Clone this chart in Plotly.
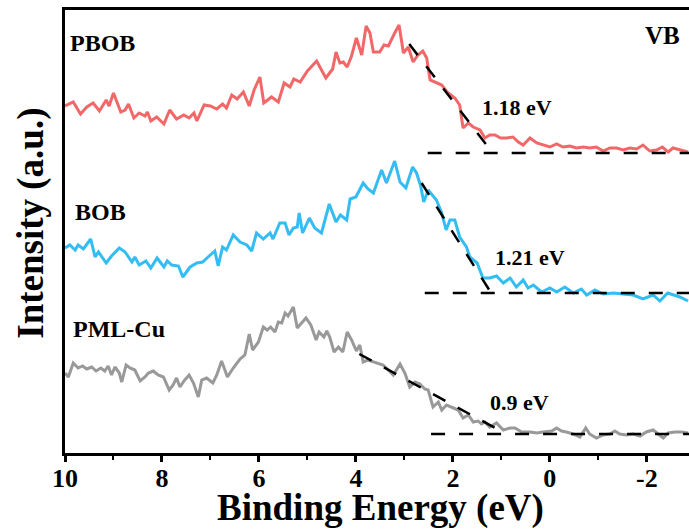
import plotly.graph_objects as go

# ---- valence-band XPS spectra (binding energy in eV, intensity in a.u., offset per sample) ----
pbob_energy = [10.00, 9.83, 9.68, 9.55, 9.42, 9.29, 9.15, 9.09, 9.00, 8.85,
               8.76, 8.69, 8.58, 8.47, 8.35, 8.30, 8.23, 8.11, 7.96, 7.84,
               7.70, 7.55, 7.44, 7.34, 7.28, 7.13, 7.00, 6.87, 6.75, 6.67,
               6.56, 6.45, 6.32, 6.20, 6.10, 5.98, 5.90, 5.74, 5.60, 5.48,
               5.36, 5.28, 5.15, 5.00, 4.81, 4.62, 4.48, 4.41, 4.33, 4.26,
               4.18, 4.09, 3.99, 3.88, 3.79, 3.71, 3.64, 3.51, 3.42, 3.33,
               3.20, 3.11, 3.02, 2.92, 2.82, 2.72, 2.62, 2.54, 2.47, 2.34,
               2.23, 2.12, 1.96, 1.86, 1.79, 1.68, 1.58, 1.44, 1.34, 1.24,
               1.13, 1.02, 0.89, 0.76, 0.65, 0.55, 0.41, 0.27, 0.14, 0.00,
               -0.14, -0.27, -0.41, -0.55, -0.69, -0.82, -0.96, -1.10, -1.24, -1.38,
               -1.51, -1.65, -1.79, -1.92, -2.06, -2.20, -2.32, -2.44, -2.54, -2.68,
               -2.85]
pbob_intensity = [347, 351, 339, 346, 350, 342, 353, 347, 360, 341,
                  343, 349, 335, 340, 337, 341, 332, 336, 329, 343,
                  334, 338, 335, 340, 332, 348, 347, 344, 349, 345,
                  358, 354, 361, 347, 363, 376, 350, 356, 351, 370,
                  366, 374, 371, 382, 392, 375, 384, 401, 390, 391,
                  386, 397, 415, 398, 427, 420, 401, 401, 408, 407,
                  420, 428, 400, 406, 391, 398, 402, 395, 373, 370,
                  368, 361, 355, 348, 325, 330, 326, 323, 315, 318,
                  318, 315, 315, 316, 311, 308, 315, 310, 308, 306,
                  309, 306, 307, 305, 306, 305, 306, 302, 305, 305,
                  303, 305, 304, 308, 302, 303, 306, 301, 305, 303,
                  301]

bob_energy = [10.00, 9.90, 9.79, 9.73, 9.62, 9.47, 9.38, 9.31, 9.15, 9.04,
              8.88, 8.76, 8.62, 8.56, 8.47, 8.33, 8.23, 8.10, 7.96, 7.89,
              7.80, 7.66, 7.57, 7.42, 7.28, 7.16, 7.05, 6.91, 6.84, 6.75,
              6.67, 6.53, 6.39, 6.25, 6.15, 6.05, 5.91, 5.77, 5.71, 5.57,
              5.46, 5.38, 5.29, 5.21, 5.17, 5.10, 4.96, 4.85, 4.71, 4.55,
              4.41, 4.32, 4.19, 4.12, 4.00, 3.85, 3.75, 3.64, 3.47, 3.37,
              3.20, 3.09, 2.97, 2.83, 2.75, 2.67, 2.60, 2.51, 2.34, 2.23,
              2.14, 2.06, 1.96, 1.86, 1.72, 1.65, 1.50, 1.38, 1.24, 1.10,
              0.96, 0.82, 0.69, 0.55, 0.45, 0.34, 0.17, 0.00, -0.14, -0.31,
              -0.48, -0.65, -0.76, -0.93, -1.10, -1.31, -1.51, -1.72, -1.92, -2.13,
              -2.27, -2.43, -2.68, -2.85]
bob_intensity = [205, 208, 203, 208, 204, 214, 196, 201, 190, 197,
                 205, 201, 191, 196, 188, 192, 185, 195, 186, 192,
                 188, 187, 176, 186, 190, 191, 196, 202, 187, 206,
                 203, 218, 211, 208, 202, 220, 214, 220, 214, 230,
                 230, 218, 225, 226, 240, 220, 235, 225, 220, 249,
                 231, 238, 233, 254, 256, 270, 264, 260, 283, 270,
                 292, 271, 265, 286, 280, 268, 251, 263, 253, 240,
                 223, 233, 233, 216, 206, 196, 190, 175, 175, 177,
                 170, 175, 166, 173, 165, 168, 161, 165, 161, 166,
                 160, 164, 158, 163, 159, 160, 159, 158, 154, 158,
                 152, 160, 156, 152]

pml_energy = [10.00, 9.93, 9.83, 9.73, 9.64, 9.55, 9.45, 9.36, 9.26, 9.18,
              9.11, 9.04, 8.97, 8.88, 8.83, 8.74, 8.66, 8.56, 8.45, 8.35,
              8.28, 8.18, 8.08, 7.97, 7.85, 7.77, 7.70, 7.63, 7.53, 7.44,
              7.35, 7.25, 7.18, 7.08, 6.95, 6.87, 6.77, 6.65, 6.53, 6.39,
              6.29, 6.20, 6.13, 6.01, 5.91, 5.83, 5.76, 5.67, 5.60, 5.53,
              5.46, 5.40, 5.29, 5.21, 5.12, 5.03, 4.93, 4.82, 4.76, 4.66,
              4.60, 4.54, 4.45, 4.36, 4.27, 4.18, 4.09, 3.99, 3.92, 3.85,
              3.75, 3.57, 3.44, 3.33, 3.23, 3.09, 2.99, 2.89, 2.78, 2.68,
              2.58, 2.51, 2.41, 2.30, 2.23, 2.13, 1.99, 1.89, 1.79, 1.68,
              1.58, 1.48, 1.41, 1.34, 1.24, 1.10, 0.96, 0.82, 0.72, 0.58,
              0.41, 0.27, 0.14, -0.04, -0.14, -0.24, -0.34, -0.48, -0.62, -0.74,
              -0.82, -0.96, -1.10, -1.24, -1.34, -1.44, -1.58, -1.72, -1.86, -1.99,
              -2.13, -2.27, -2.34, -2.44, -2.58, -2.72, -2.85]
pml_intensity = [80, 76, 90, 85, 87, 84, 86, 82, 85, 82,
                 87, 78, 86, 80, 71, 88, 85, 83, 72, 76,
                 80, 82, 78, 76, 63, 68, 75, 66, 73, 78,
                 70, 56, 73, 75, 70, 78, 92, 76, 85, 94,
                 98, 119, 103, 111, 126, 123, 126, 121, 131, 130,
                 140, 137, 146, 125, 130, 135, 128, 113, 121, 116,
                 122, 116, 101, 106, 101, 121, 113, 102, 108, 91,
                 93, 90, 88, 83, 78, 89, 80, 66, 71, 69,
                 64, 63, 46, 51, 43, 48, 45, 43, 35, 38,
                 31, 32, 29, 31, 26, 30, 23, 25, 25, 21,
                 21, 20, 21, 22, 25, 22, 21, 19, 16, 25,
                 19, 15, 18, 19, 22, 19, 18, 19, 17, 21,
                 23, 18, 15, 20, 21, 21, 20]

# ---- linear extrapolation of the leading edge to the background ----
sample_names = ["PBOB", "BOB", "PML-Cu"]
vb_onsets = [1.18, 1.21, 0.9]             # eV, where edge line meets background
edge_start_energy = [2.90, 2.645, 3.93]   # eV, upper end of the fitted edge line
edge_start_intensity = [409, 270, 99]
background_level = [300, 160, 19]
background_start = [2.52, 2.58, 2.45]

# axis settings
x_range = [10, -2.87]
y_range = [0, 443]
tick_values = [10, 8, 6, 4, 2, 0, -2]
tick_labels = ["10", "8", "6", "4", "2", "0", "-2"]
minor_values = [9, 7, 5, 3, 1, -1]

colors = ["#F26868", "#33BDF3", "#999999"]
FONT = "Liberation Serif"

fig = go.Figure()

spectra = [(pbob_energy, pbob_intensity), (bob_energy, bob_intensity), (pml_energy, pml_intensity)]
for (e, inten), name, col in zip(spectra, sample_names, colors):
    fig.add_trace(go.Scatter(x=e, y=inten, mode="lines", name=name,
                             line=dict(color=col, width=3), showlegend=False))

dash_style = dict(color="black", width=2.5, dash="14px,14px")
for i in range(3):
    # edge tangent
    fig.add_trace(go.Scatter(x=[edge_start_energy[i], vb_onsets[i]],
                             y=[edge_start_intensity[i], background_level[i]],
                             mode="lines", line=dash_style, showlegend=False))
    # background level
    fig.add_trace(go.Scatter(x=[background_start[i], x_range[1]],
                             y=[background_level[i], background_level[i]],
                             mode="lines", line=dash_style, showlegend=False))

bold = dict(family=FONT, color="black", weight="bold")

# sample labels
label_pos = [(9.94, 410), (9.84, 241), (9.88, 124)]
for name, (lx, ly) in zip(sample_names, label_pos):
    fig.add_annotation(x=lx, y=ly, text=name, showarrow=False, xanchor="left",
                       yanchor="middle", font=dict(bold, size=24))

# onset value labels
onset_label_pos = [(0.68, 346), (0.41, 196), (0.62, 51)]
for v, (lx, ly) in zip(vb_onsets, onset_label_pos):
    fig.add_annotation(x=lx, y=ly, text=f"{v} eV", showarrow=False,
                       xanchor="center", yanchor="middle", font=dict(bold, size=22))

fig.add_annotation(x=-2.33, y=418, text="VB", showarrow=False, xanchor="center",
                   yanchor="middle", font=dict(bold, size=25))

# axis titles
fig.add_annotation(xref="paper", yref="paper", x=0.506, y=-0.1242,
                   text="Binding Energy (eV)", showarrow=False,
                   xanchor="center", yanchor="middle", font=dict(bold, size=37))
fig.add_annotation(xref="paper", yref="paper", x=-0.055, y=0.519,
                   text="Intensity (a.u.)", showarrow=False, textangle=-90,
                   xanchor="center", yanchor="middle", font=dict(bold, size=37))

fig.update_layout(
    width=689, height=532,
    margin=dict(l=65, r=0, t=10, b=79),
    paper_bgcolor="white", plot_bgcolor="white",
    showlegend=False,
)
fig.update_xaxes(
    range=x_range, tickmode="array", tickvals=tick_values, ticktext=tick_labels,
    ticks="outside", ticklen=6, tickwidth=2.5, tickcolor="black",
    tickfont=dict(family=FONT, color="black", weight="bold", size=26),
    ticklabelstandoff=-6,
    minor=dict(tickmode="array", tickvals=minor_values, ticks="outside",
               ticklen=4, tickwidth=2, tickcolor="black"),
    showline=True, linecolor="black", linewidth=3, mirror=True,
    showgrid=False, zeroline=False,
)
fig.update_yaxes(
    range=y_range, showticklabels=False, ticks="",
    showline=True, linecolor="black", linewidth=3,
    showgrid=False, zeroline=False,
)

fig.write_html("out.html")
